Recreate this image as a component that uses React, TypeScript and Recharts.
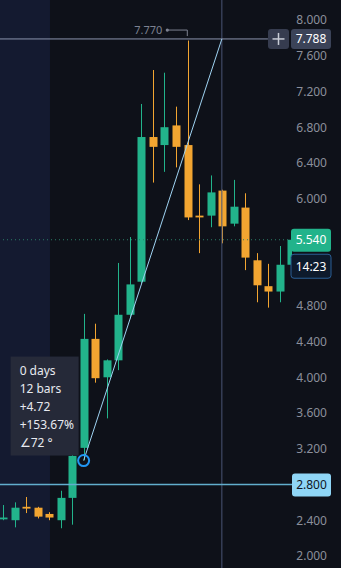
import React from 'react';
import { ComposedChart, Bar, XAxis, YAxis, ReferenceLine, ReferenceDot, ReferenceArea } from 'recharts';

const barIndex = [0, 1, 2, 3, 4, 5, 6, 7, 8, 9, 10, 11, 12, 13, 14, 15, 16, 17, 18, 19, 20, 21, 22, 23, 24, 25];
const opens = [2.41, 2.40, 2.55, 2.54, 2.47, 2.40, 2.65, 3.21, 4.43, 4.00, 4.19, 4.70, 5.07, 6.69, 6.60, 6.82, 6.60, 5.81, 5.81, 6.09, 5.72, 5.90, 5.31, 5.02, 4.96, 5.26];
const highs = [2.57, 2.60, 2.66, 2.55, 2.49, 2.73, 3.13, 4.71, 4.60, 4.20, 5.28, 5.57, 7.06, 7.44, 7.41, 7.03, 7.77, 6.16, 6.26, 6.10, 6.21, 6.06, 5.39, 5.27, 5.47, 5.56];
const lows = [2.40, 2.32, 2.48, 2.42, 2.40, 2.31, 2.35, 3.07, 3.94, 3.54, 4.08, 4.66, 5.05, 6.18, 6.30, 6.35, 5.76, 5.39, 5.68, 5.50, 5.69, 5.20, 4.84, 4.78, 4.84, 5.25];
const closes = [2.43, 2.54, 2.53, 2.44, 2.43, 2.65, 3.12, 4.43, 3.99, 4.19, 4.70, 5.04, 6.69, 6.58, 6.80, 6.58, 5.79, 5.79, 6.07, 5.69, 5.91, 5.34, 5.03, 4.96, 5.26, 5.54];

const priceTicks = [2.0, 2.4, 3.2, 3.6, 4.0, 4.4, 4.8, 6.0, 6.4, 6.8, 7.2, 7.6, 8.0];
const yDomain = [1.865, 8.224];
const xDomain = [-0.26, 25.09];

const lastPrice = 5.54;
const countdown = '14:23';
const crossPrice = 7.788;
const levelPrice = 2.8;
const peakIndex = 16;
const peakPrice = 7.77;
const trendStart = { x: 7, y: 3.068 };
const trendEnd = { x: 19, y: 7.788 };
const sessionEnd = 4.08;
const infoLines = ['0 days', '12 bars', '+4.72', '+153.67%', '∠72 °'];

const GREEN = '#22b38b';
const ORANGE = '#f2a531';
const BG = '#0e1119';
const FONT = '"Noto Sans", "Open Sans", sans-serif';

const data = barIndex.map((i, k) => ({
  i,
  o: opens[k],
  h: highs[k],
  l: lows[k],
  c: closes[k],
  range: [lows[k], highs[k]],
}));

const Candle = (props: any) => {
  const { x, y, width, height, payload } = props;
  if (!payload) return null;
  const { o, h, l, c } = payload;
  const top = Math.min(y, y + height);
  const ht = Math.abs(height);
  const cx = Math.round(x + width / 2) + 0.5;
  const ppu = ht / (h - l);
  const yO = top + (h - o) * ppu;
  const yC = top + (h - c) * ppu;
  const color = c >= o ? GREEN : ORANGE;
  const bTop = Math.min(yO, yC);
  const bH = Math.max(1.5, Math.abs(yO - yC));
  return (
    <g>
      <line x1={cx} x2={cx} y1={top} y2={top + ht} stroke={color} strokeWidth={1} />
      <rect x={cx - 4} y={bTop} width={8} height={bH} fill={color} />
    </g>
  );
};

const PriceTick = (props: any) => {
  const { y, payload } = props;
  return (
    <text x={327} y={y} dy="0.36em" textAnchor="end" fill="#8b8f9b" fontSize={12} fontFamily={FONT}>
      {Number(payload.value).toFixed(3)}
    </text>
  );
};

const LastPriceTag = (props: any) => {
  const { cy } = props;
  return (
    <g>
      <rect x={291} y={cy - 11} width={40} height={23} rx={3} fill={GREEN} />
      <text x={311} y={cy} dy="0.36em" textAnchor="middle" fill="#ffffff" fontSize={12} fontFamily={FONT}>
        {lastPrice.toFixed(3)}
      </text>
      <rect x={291} y={cy + 14.5} width={40} height={24} rx={3} fill="#0d1a2c" stroke="#2b5f95" strokeWidth={1} />
      <text x={311} y={cy + 26.5} dy="0.36em" textAnchor="middle" fill="#ffffff" fontSize={12} fontFamily={FONT}>
        {countdown}
      </text>
    </g>
  );
};

const CrossTag = (props: any) => {
  const { cy } = props;
  return (
    <g>
      <rect x={268} y={cy - 10} width={21} height={20} rx={3} fill="#363c4f" />
      <line x1={272.5} x2={284.5} y1={cy} y2={cy} stroke="#c8ccd6" strokeWidth={1.5} />
      <line x1={278.5} x2={278.5} y1={cy - 6} y2={cy + 6} stroke="#c8ccd6" strokeWidth={1.5} />
      <rect x={291} y={cy - 10} width={40} height={20} rx={3} fill="#3b4358" />
      <text x={311} y={cy} dy="0.36em" textAnchor="middle" fill="#ffffff" fontSize={12} fontFamily={FONT}>
        {crossPrice.toFixed(3)}
      </text>
    </g>
  );
};

const LevelTag = (props: any) => {
  const { cy } = props;
  return (
    <g>
      <rect x={292} y={cy - 11} width={39} height={23} rx={3} fill="#8fd6f6" />
      <text x={311.5} y={cy} dy="0.36em" textAnchor="middle" fill="#10151f" fontSize={12} fontFamily={FONT}>
        {levelPrice.toFixed(3)}
      </text>
    </g>
  );
};

const PeakTag = (props: any) => {
  const { cx, cy } = props;
  const ly = cy - 10.5;
  return (
    <g>
      <line x1={cx - 20} x2={cx} y1={ly} y2={ly} stroke="#7d8291" strokeWidth={1} />
      <line x1={cx} x2={cx} y1={ly} y2={ly + 6} stroke="#7d8291" strokeWidth={1} />
      <circle cx={cx - 20} cy={ly} r={1.6} fill="#7d8291" />
      <text x={cx - 25} y={ly} dy="0.36em" textAnchor="end" fill="#7d8291" fontSize={11} fontFamily={FONT}>
        {peakPrice.toFixed(3)}
      </text>
    </g>
  );
};

const InfoTag = (props: any) => {
  const { cx, cy } = props;
  const bx = cx - 73;
  const by = cy - 104;
  return (
    <g>
      <rect x={bx} y={by} width={68} height={99} fill="#272b3a" opacity={0.95} />
      {infoLines.map((t, k) => (
        <text key={k} x={bx + 9} y={by + 18 + k * 18} fill="#e8eaf0" fontSize={12} fontFamily={FONT}>
          {t}
        </text>
      ))}
      <circle cx={cx} cy={cy} r={5.5} fill="none" stroke="#2196f3" strokeWidth={2} />
    </g>
  );
};

export default function App() {
  return (
    <div style={{ position: 'absolute', left: 0, top: 0, width: 341, height: 568, background: BG, overflow: 'hidden' }}>
      <ComposedChart width={341} height={568} data={data} margin={{ top: 0, right: 0, bottom: 0, left: 0 }}>
        <XAxis dataKey="i" type="number" domain={xDomain} allowDataOverflow hide />
        <YAxis
          orientation="right"
          width={49}
          domain={yDomain}
          allowDataOverflow
          ticks={priceTicks}
          interval={0}
          axisLine={false}
          tickLine={false}
          tick={PriceTick}
        />
        <ReferenceArea x1={xDomain[0]} x2={sessionEnd} fill="#141a30" fillOpacity={1} stroke="none" ifOverflow="visible" />
        <ReferenceLine y={lastPrice} stroke="#2b7d68" strokeDasharray="1 3" ifOverflow="visible" />
        <ReferenceLine x={trendEnd.x} stroke="#4a5474" strokeWidth={1} ifOverflow="visible" />
        <ReferenceLine y={levelPrice} stroke="#62aecd" strokeWidth={1.6} ifOverflow="visible" />
        <ReferenceLine
          segment={[{ x: xDomain[0], y: crossPrice }, { x: 23, y: crossPrice }]}
          stroke="#8c94ad"
          strokeWidth={1}
          ifOverflow="visible"
        />
        <Bar dataKey="range" barSize={8} shape={Candle} isAnimationActive={false} />
        <ReferenceLine
          segment={[trendStart, trendEnd]}
          stroke="#9fd3f2"
          strokeWidth={1}
          ifOverflow="visible"
        />
        <ReferenceDot x={peakIndex} y={peakPrice} ifOverflow="visible" shape={PeakTag} />
        <ReferenceDot x={trendStart.x} y={trendStart.y} ifOverflow="visible" shape={InfoTag} />
        <ReferenceDot x={trendEnd.x} y={lastPrice} ifOverflow="visible" shape={LastPriceTag} />
        <ReferenceDot x={trendEnd.x} y={crossPrice} ifOverflow="visible" shape={CrossTag} />
        <ReferenceDot x={trendEnd.x} y={levelPrice} ifOverflow="visible" shape={LevelTag} />
      </ComposedChart>
    </div>
  );
}
